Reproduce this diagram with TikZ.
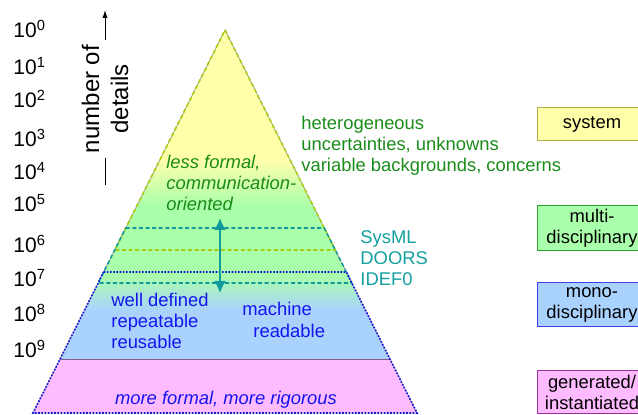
\documentclass[tikz,border=0pt]{standalone}
\usepackage{fontspec}
\setmainfont{Liberation Sans}
\usetikzlibrary{arrows.meta,calc}

\definecolor{bandyellow}{HTML}{FFFFAA}
\definecolor{bandgreen}{HTML}{AAFFAA}
\definecolor{bandblue}{HTML}{AAD2FF}
\definecolor{bandpink}{HTML}{FFBBFF}
\definecolor{txtgreen}{HTML}{1A8C1A}
\definecolor{txtteal}{HTML}{14A0A0}
\definecolor{txtblue}{HTML}{1414F0}
\definecolor{linelime}{HTML}{A8CC10}
\definecolor{lineteal}{HTML}{109A9A}
\definecolor{lineblue}{HTML}{1010E0}
\definecolor{boxolive}{HTML}{B0B040}
\definecolor{boxgreen}{HTML}{30A030}
\definecolor{boxblue}{HTML}{4040E0}
\definecolor{boxpurple}{HTML}{993399}

\newcommand\pyrfont{\fontsize{9.2pt}{10.6pt}\selectfont}

\begin{document}
\begin{tikzpicture}[x=0.5pt,y=-0.5pt,font=\pyrfont,
    txt/.style={inner sep=0pt,anchor=west,align=left},
    limeline/.style={linelime,line width=0.8pt,dash pattern=on 2pt off 1.3pt},
    tealline/.style={lineteal,line width=0.8pt,dash pattern=on 2pt off 1.3pt},
    blueline/.style={lineblue,line width=0.8pt,dash pattern=on 0.8pt off 0.8pt},
    layerbox/.style={draw,line width=0.5pt,minimum width=55pt,minimum height=#1,inner sep=0pt,align=center}]

    \useasboundingbox (0,0) rectangle (638,415);
    \clip (0,0) rectangle (638,415);

    %corners of the pyramid
        \coordinate (apex) at (225,30);
        \coordinate (bl) at (33,413);
        \coordinate (br) at (417,413);

    %points on the sides where the layers begin
        \foreach \y/\t in {228/0.517, 250/0.5744, 272/0.6319, 283/0.6606, 360/0.8616} {
            \coordinate (l\y) at ($(apex)!\t!(bl)$);
            \coordinate (r\y) at ($(apex)!\t!(br)$);
        }

    %coloured bands
        \begin{scope}
            \clip (apex) -- (br) -- (bl) -- cycle;
            \fill[bandyellow] (30,25) rectangle (420,161);
            \shade[top color=bandyellow,bottom color=bandgreen] (30,160) rectangle (420,206);
            \fill[bandgreen] (30,205) rectangle (420,276);
            \shade[top color=bandgreen,bottom color=bandblue] (30,275) rectangle (420,311);
            \fill[bandblue] (30,310) rectangle (420,361);
            \fill[bandpink] (30,360) rectangle (420,420);
        \end{scope}

    %outline and layer borders
        \draw[gray!70,line width=0.4pt] (apex) -- (br) -- (bl) -- cycle;
        \draw[boxpurple!50!gray,line width=0.5pt] (l360) -- (r360);
        \draw[limeline] (apex) -- (r250) -- (l250) -- cycle;
        \draw[tealline] (l228) -- (r228) -- (r283) -- (l283) -- cycle;
        \draw[blueline] (l272) -- (r272) -- (br) -- (bl) -- cycle;

    %double arrow over the multi-disciplinary layer
        \coordinate (arrtop) at (220,218);
        \coordinate (arrbot) at (220,293);
        \draw[lineteal,line width=1pt,{Latex[length=6pt,width=6pt]}-{Latex[length=6pt,width=6pt]}] (arrtop) -- (arrbot);

    %scale on the left
        \foreach \e/\y in {0/38,1/75,2/108,3/147,4/180,5/212,6/253,7/287,8/322,9/358}
            \node[anchor=base west,inner sep=0pt,font=\fontsize{10.5pt}{12pt}\selectfont] (exp\e) at (13,\y) {10\textsuperscript{\e}};

        \node[rotate=90,align=center,inner sep=0pt,font=\fontsize{12pt}{14.5pt}\selectfont] (details) at (105,99) {number of\\details};
        \coordinate (axbot) at (105,185);
        \coordinate (axlow) at (105,158);
        \coordinate (axhigh) at (105,40);
        \coordinate (axtop) at (105,10);
        \draw[line width=0.5pt] (axbot) -- (axlow);
        \draw[line width=0.5pt,-{Latex[length=4pt,width=2.6pt]}] (axhigh) -- (axtop);

    %texts in and around the pyramid
        \node[txt,text=txtgreen,font=\pyrfont\itshape] (lessformal) at (166,183) {less formal,\\communication-\\oriented};
        \node[txt,text=txtgreen] (hetero) at (301,146) {heterogeneous\\uncertainties, unknowns\\variable backgrounds, concerns};
        \node[txt,text=txtteal] (tools) at (360,258) {SysML\\DOORS\\IDEF0};
        \node[txt,text=txtblue] (welldef) at (111,321) {well defined\\repeatable\\reusable};
        \node[txt,text=txtblue] (machine) at (242,320) {machine\\\hspace{5.5pt}readable};
        \node[inner sep=0pt,text=txtblue,font=\pyrfont\itshape] (moreformal) at (226,400) {more formal, more rigorous};

    %layer names on the right
        \node[layerbox=16.5pt,fill=bandyellow,draw=boxolive] (system) at (592,124.5) {system};
        \node[layerbox=22.5pt,fill=bandgreen,draw=boxgreen] (multi) at (592,228.5) {multi-\\disciplinary};
        \node[layerbox=22pt,fill=bandblue,draw=boxblue] (mono) at (592,305) {mono-\\disciplinary};
        \node[layerbox=21.5pt,fill=bandpink,draw=boxpurple] (generated) at (592,392.5) {generated/\\instantiated};

\end{tikzpicture}
\end{document}
